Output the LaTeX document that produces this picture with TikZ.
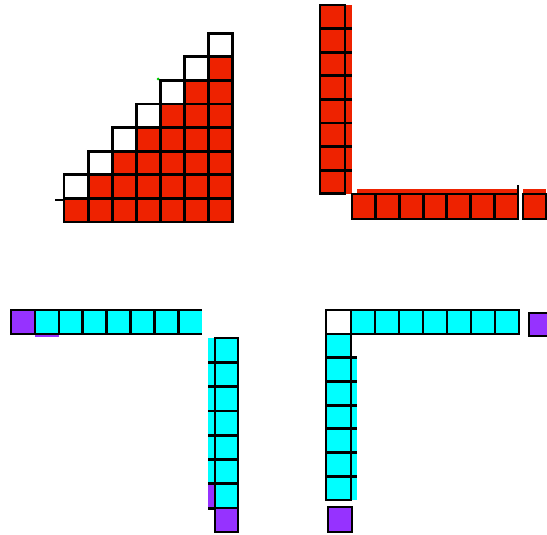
\documentclass[tikz,border=0pt]{standalone}
\definecolor{blockred}{RGB}{238,34,0}
\definecolor{blockcyan}{RGB}{0,255,255}
\definecolor{blockpurple}{RGB}{150,50,255}

\begin{document}
\begin{tikzpicture}[x=1pt, y=-1pt,
		cell/.style={draw=black, line width=2.8pt},
		edge/.style={black, line width=2.8pt}]
	\useasboundingbox (0,0) rectangle (547,535);

	% staircase, top left
	\foreach \i in {0,...,6} {
		\foreach \j in {0,...,\i}
			\draw[cell, fill=blockred] ({64+24.1*\i}, {222-23.6*\j}) rectangle ++(24.1,-23.6);
		\draw[cell, fill=white] ({64+24.1*\i}, {222-23.6*(\i+1)}) rectangle ++(24.1,-23.6);
	}
	\draw[edge] (55,200) -- (64,200);
	\fill[green!80!black] (158,79) circle (1.5);

	% L shape, top right
	\fill[blockred] (320,5) rectangle (352,194);
	\foreach \k in {0,...,7}
		\draw[cell, fill=blockred] (320, {5+23.6*\k}) rectangle ++(25,23.6);
	\foreach \k in {1,...,7}
		\draw[edge] (345, {5+23.6*\k}) -- ++(7,0);
	\fill[blockred] (357,189) rectangle (518,194);
	\foreach \k in {0,...,6}
		\draw[cell, fill=blockred] ({352+23.7*\k}, 194) rectangle ++(23.7,25);
	\draw[edge] (518,185) -- (518,194);
	\fill[blockred] (523,189) rectangle (546,194);
	\draw[cell, fill=blockred] (523,194) rectangle (546,219);

	% bottom left
	\fill[blockpurple] (35,334) rectangle (59,337);
	\draw[cell, fill=blockpurple] (11,310) rectangle (35,334);
	\fill[blockcyan] (35,310) rectangle (202,334);
	\draw[edge] (35,310) -- (202,310) (35,334) -- (202,334);
	\foreach \k in {0,...,6}
		\draw[edge] ({35+23.9*\k}, 310) -- ++(0,24);

	\fill[blockcyan] (208,338) rectangle (215,483);
	\fill[blockpurple] (208,483) rectangle (215,508);
	\foreach \k in {0,...,6}
		\draw[cell, fill=blockcyan] (215, {338+24.3*\k}) rectangle ++(23,24.3);
	\foreach \k in {1,...,7}
		\draw[edge] (208, {338+24.3*\k}) -- ++(7,0);
	\draw[cell, fill=blockpurple] (215,508) rectangle (238,532);

	% bottom right
	\draw[cell, fill=white] (326,310) rectangle (351,334);
	\foreach \k in {0,...,6}
		\draw[cell, fill=blockcyan] ({351+24*\k}, 310) rectangle ++(24,24);
	\draw[cell, fill=blockpurple] (529,313) rectangle (553,336);

	\fill[blockcyan] (351,357) rectangle (357,500);
	\foreach \k in {0,...,6}
		\draw[cell, fill=blockcyan] (326, {334+23.7*\k}) rectangle ++(25,23.7);
	\foreach \k in {1,...,6}
		\draw[edge] (351, {334+23.7*\k}) -- ++(6,0);
	\draw[cell, fill=blockpurple] (328,507) rectangle (352,532);

\end{tikzpicture}
\end{document}
